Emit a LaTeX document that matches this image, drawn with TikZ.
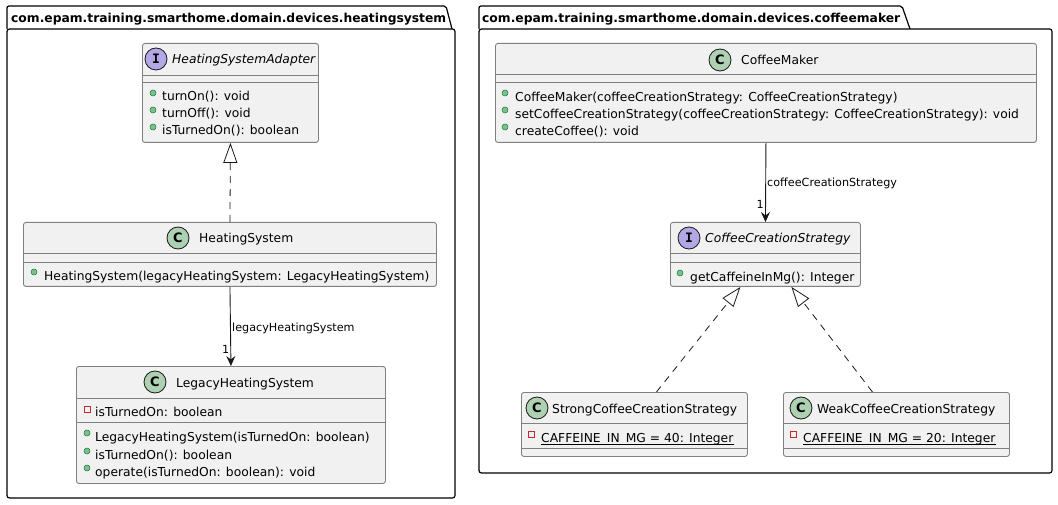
\documentclass[tikz,border=0pt]{standalone}
\usepackage{fontspec}
\setmainfont{DejaVu Sans}
\newfontfamily\iconmono{DejaVu Sans Mono}
\usetikzlibrary{arrows.meta,calc}
\definecolor{boxfill}{HTML}{F1F1F1}
\definecolor{boxline}{HTML}{181818}
\definecolor{cfill}{HTML}{ADD1B2}
\definecolor{ifill}{HTML}{B4A7E5}
\definecolor{pubfill}{HTML}{84BE84}
\definecolor{publine}{HTML}{038048}
\definecolor{privline}{HTML}{C82930}
\newcommand\memfont{\fontsize{12.3}{14}\selectfont}
\newcommand\lblfont{\fontsize{11.2}{13}\selectfont}
\newcommand\pkgfont{\fontsize{12.3}{14}\selectfont\bfseries}
\tikzset{
  pkg/.style={draw=black, line width=1.2pt},
  classbox/.style={draw=black!50, fill=boxfill, line width=0.9pt, rounded corners=2.5pt, inner sep=0pt, anchor=north west},
  sep/.style={draw=black!50, line width=0.9pt},
  mem/.style={font=\memfont, inner sep=0pt, anchor=base west, text=black},
  cname/.style={font=\memfont, inner sep=0pt, anchor=base west, text=black},
  lbl/.style={font=\lblfont, inner sep=0pt, text=black},
  pkgname/.style={font=\pkgfont, inner sep=0pt, anchor=base west},
  icon/.style={circle, draw=boxline, line width=0.8pt, minimum size=22pt, inner sep=0pt},
  cicon/.style={icon, fill=cfill, font=\fontsize{13}{13}\selectfont\bfseries},
  iicon/.style={icon, fill=ifill, font=\fontsize{13}{13}\selectfont\iconmono\bfseries},
  pub/.style={circle, fill=pubfill, draw=publine, line width=0.5pt, minimum size=6pt, inner sep=0pt},
  priv/.style={rectangle, draw=privline, line width=0.8pt, minimum size=6pt, inner sep=0pt},
  realize/.style={draw=boxline, line width=0.8pt, dash pattern=on 7pt off 6pt, -{Triangle[open, length=20pt, width=14pt]}},
  assoc/.style={draw=boxline, line width=0.9pt, -{Stealth[length=10pt, width=9pt, inset=3.5pt]}},
  uline/.style={draw=black, line width=0.8pt}
}
\begin{document}
\begin{tikzpicture}[x=1pt, y=-1pt]
\useasboundingbox (0,0) rectangle (1058,505);

% ---------- package heatingsystem ----------
\draw[pkg, rounded corners=2pt] (7,29) -- (7,6) -- (446,6) -- (452,29);
\draw[pkg, rounded corners=2.5pt] (7,29) rectangle (455,498);
\node[pkgname] (pkg1) at (11,23) {com.epam.training.smarthome.domain.devices.heatingsystem};

% HeatingSystemAdapter
\node[classbox, minimum width=176pt, minimum height=99pt] (hsa) at (142,43) {};
\draw[sep] (142,75) -- (318,75);
\draw[sep] (142,82) -- (318,82);
\node[iicon] (hsa-i) at (156,59) {I};
\node[cname] (hsa-n) at (172,63.5) {\itshape HeatingSystemAdapter};
\node[pub] (hsa-b1) at (153,93) {};
\node[pub] (hsa-b2) at (153,110) {};
\node[pub] (hsa-b3) at (153,127) {};
\node[mem] (hsa-m1) at (162,101) {turnOn(): void};
\node[mem] (hsa-m2) at (162,118) {turnOff(): void};
\node[mem] (hsa-m3) at (162,135) {isTurnedOn(): boolean};

% HeatingSystem
\node[classbox, minimum width=413pt, minimum height=64pt] (hs) at (23,222) {};
\draw[sep] (23,253) -- (436,253);
\draw[sep] (23,262) -- (436,262);
\node[cicon] (hs-c) at (178,238) {C};
\node[cname] (hs-n) at (199,243) {HeatingSystem};
\node[pub] (hs-b1) at (34,272) {};
\node[mem] (hs-m1) at (44,280) {HeatingSystem(legacyHeatingSystem: LegacyHeatingSystem)};

% LegacyHeatingSystem
\node[classbox, minimum width=309pt, minimum height=117pt] (lhs) at (76,366) {};
\draw[sep] (76,398) -- (385,398);
\draw[sep] (76,422) -- (385,422);
\node[cicon] (lhs-c) at (155,382) {C};
\node[cname] (lhs-n) at (176,387) {LegacyHeatingSystem};
\node[priv] (lhs-p1) at (87,409) {};
\node[mem] (lhs-a1) at (95,416) {isTurnedOn: boolean};
\node[pub] (lhs-b1) at (87,433) {};
\node[pub] (lhs-b2) at (87,451) {};
\node[pub] (lhs-b3) at (87,468) {};
\node[mem] (lhs-m1) at (95,441) {LegacyHeatingSystem(isTurnedOn: boolean)};
\node[mem] (lhs-m2) at (95,459) {isTurnedOn(): boolean};
\node[mem] (lhs-m3) at (95,476) {operate(isTurnedOn: boolean): void};

% connectors
\draw[realize] (hs.north) -- (hsa.south);
\draw[assoc] (hs.south) -- (lhs.north);
\node[lbl, anchor=base west] (hs-lbl) at (232,331) {legacyHeatingSystem};
\node[lbl, anchor=base east] (hs-one) at (229.5,353) {1};

% ---------- package coffeemaker ----------
\draw[pkg, rounded corners=2pt] (479,29) -- (479,6) -- (902,6) -- (910,29);
\draw[pkg, rounded corners=2.5pt] (479,29) rectangle (1052,473);
\node[pkgname] (pkg2) at (482,23) {com.epam.training.smarthome.domain.devices.coffeemaker};

% CoffeeMaker
\node[classbox, minimum width=541pt, minimum height=99pt] (cm) at (495,43) {};
\draw[sep] (495,74) -- (1036,74);
\draw[sep] (495,82) -- (1036,82);
\node[cicon] (cm-c) at (720,60) {C};
\node[cname] (cm-n) at (741,64.5) {CoffeeMaker};
\node[pub] (cm-b1) at (505,93) {};
\node[pub] (cm-b2) at (505,110) {};
\node[pub] (cm-b3) at (505,127) {};
\node[mem] (cm-m1) at (515,101.5) {CoffeeMaker(coffeeCreationStrategy: CoffeeCreationStrategy)};
\node[mem] (cm-m2) at (515,118.5) {setCoffeeCreationStrategy(coffeeCreationStrategy: CoffeeCreationStrategy): void};
\node[mem] (cm-m3) at (515,135.5) {createCoffee(): void};

% CoffeeCreationStrategy
\node[classbox, minimum width=190pt, minimum height=64pt] (ccs) at (670,222) {};
\draw[sep] (670,253) -- (860,253);
\draw[sep] (670,262) -- (860,262);
\node[iicon] (ccs-i) at (689,238) {I};
\node[cname] (ccs-n) at (705,242.5) {\itshape CoffeeCreationStrategy};
\node[pub] (ccs-b1) at (680,273) {};
\node[mem] (ccs-m1) at (690,281) {getCaffeineInMg(): Integer};

% StrongCoffeeCreationStrategy
\node[classbox, minimum width=226pt, minimum height=64pt] (scs) at (521,392) {};
\draw[sep] (521,423) -- (747,423);
\draw[sep] (521,448) -- (747,448);
\node[cicon] (scs-c) at (537,408) {C};
\node[cname] (scs-n) at (552,413) {StrongCoffeeCreationStrategy};
\node[priv] (scs-p1) at (531,434) {};
\node[mem] (scs-a1) at (541,442) {CAFFEINE\_IN\_MG = 40: Integer};
\draw[uline] ([yshift=-2pt]scs-a1.base west) -- ([yshift=-2pt]scs-a1.base east);

% WeakCoffeeCreationStrategy
\node[classbox, minimum width=226pt, minimum height=64pt] (wcs) at (783,392) {};
\draw[sep] (783,423) -- (1009,423);
\draw[sep] (783,448) -- (1009,448);
\node[cicon] (wcs-c) at (801,408) {C};
\node[cname] (wcs-n) at (817,413) {WeakCoffeeCreationStrategy};
\node[priv] (wcs-p1) at (793,434) {};
\node[mem] (wcs-a1) at (803,442) {CAFFEINE\_IN\_MG = 20: Integer};
\draw[uline] ([yshift=-2pt]wcs-a1.base west) -- ([yshift=-2pt]wcs-a1.base east);

% connectors
\draw[assoc] (cm.south) -- (ccs.north);
\node[lbl, anchor=base west] (cm-lbl) at (767,187) {coffeeCreationStrategy};
\node[lbl, anchor=base east] (cm-one) at (764,209) {1};
\draw[realize] ([xshift=22pt]scs.north) -- ([xshift=-25pt]ccs.south);
\draw[realize] ([xshift=-24pt]wcs.north) -- ([xshift=26pt]ccs.south);
\end{tikzpicture}
\end{document}
